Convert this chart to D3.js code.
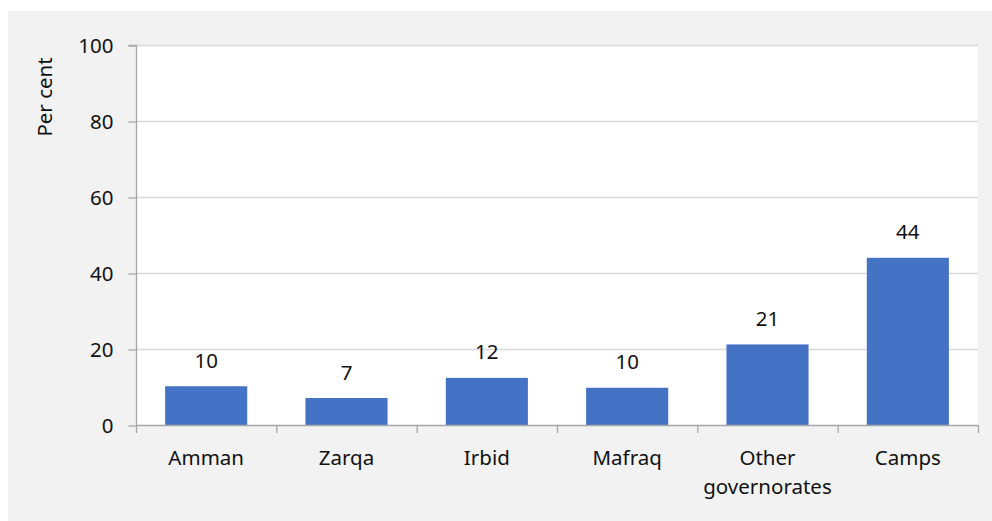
<!DOCTYPE html>
<html>
<head>
<meta charset="utf-8">
<script src="https://cdn.jsdelivr.net/npm/d3@7"></script>
<style>
  html, body { margin: 0; padding: 0; background: #ffffff; }
  svg { display: block; }
  text { font-family: "Noto Sans", "Open Sans", sans-serif; fill: #111; }
</style>
</head>
<body>
<svg id="chart" width="992" height="521"></svg>
<script>
// Share by location (per cent)
const categories = ["Amman", "Zarqa", "Irbid", "Mafraq", "Other governorates", "Camps"];
const values = [10.2, 7.1, 12.4, 9.8, 21.2, 44.0];
const yTicks = [0, 20, 40, 60, 80, 100];
const yTitle = "Per cent";

const FS = 20.5;
const svg = d3.select("#chart");
const W = 992, H = 521;

// outer panel
svg.append("rect").attr("x", 8).attr("y", 11).attr("width", W - 8).attr("height", H - 11).attr("fill", "#f2f2f2");

const plot = { left: 136, right: 978, top: 45, bottom: 425 };

const x = d3.scaleBand().domain(categories).range([plot.left, plot.right]).paddingInner(0.415).paddingOuter(0.2075);
const xEdges = d3.scaleBand().domain(categories).range([plot.left, plot.right]).padding(0);
const y = d3.scaleLinear().domain([0, 100]).range([plot.bottom, plot.top]);

// plot background
svg.append("rect").attr("x", plot.left).attr("y", plot.top)
  .attr("width", plot.right - plot.left).attr("height", plot.bottom - plot.top).attr("fill", "#ffffff");

// gridlines
svg.append("g").selectAll("line").data(yTicks.filter(d => d > 0)).join("line")
  .attr("x1", plot.left).attr("x2", plot.right)
  .attr("y1", d => y(d) + 0.5).attr("y2", d => y(d) + 0.5)
  .attr("stroke", "#d9d9d9").attr("stroke-width", 1.3);

// bars
svg.append("g").selectAll("rect").data(values).join("rect")
  .attr("x", (d, i) => x(categories[i]))
  .attr("width", x.bandwidth())
  .attr("y", d => y(d))
  .attr("height", d => y(0) - y(d))
  .attr("fill", "#4472c4");

// value labels
svg.append("g").selectAll("text").data(values).join("text")
  .attr("x", (d, i) => x(categories[i]) + x.bandwidth() / 2)
  .attr("y", d => y(d) - 18.5)
  .attr("text-anchor", "middle")
  .attr("font-size", FS)
  .text(d => d3.format(".0f")(d));

// y axis
const yAxis = d3.axisLeft(y).tickValues(yTicks).tickSize(8).tickPadding(15).tickFormat(d3.format("d"));
const gy = svg.append("g").attr("transform", `translate(${plot.left + 0.5},0)`).call(yAxis);
gy.select(".domain").attr("stroke", "#a6a6a6").attr("stroke-width", 1.3).attr("d", `M-8,${plot.top + 0.5}H0V${plot.bottom + 0.5}`);
gy.selectAll(".tick line").attr("stroke", "#a6a6a6").attr("stroke-width", 1.3).attr("transform", "translate(0,0.5)");
gy.selectAll(".tick text").attr("font-size", FS).attr("fill", "#111").attr("font-family", '"Noto Sans", "Open Sans", sans-serif').attr("dy", "0.36em");

// x axis baseline and category boundary ticks
const gx = svg.append("g");
gx.append("line").attr("x1", plot.left).attr("x2", plot.right)
  .attr("y1", plot.bottom + 0.5).attr("y2", plot.bottom + 0.5)
  .attr("stroke", "#a6a6a6").attr("stroke-width", 1.3);
const edges = categories.map(c => xEdges(c)).concat([plot.right]);
gx.selectAll("line.edge").data(edges).join("line").attr("class", "edge")
  .attr("x1", d => d + 0.5).attr("x2", d => d + 0.5)
  .attr("y1", plot.bottom).attr("y2", plot.bottom + 8)
  .attr("stroke", "#a6a6a6").attr("stroke-width", 1.3);

// category labels (wrapped)
const labelLines = { "Other governorates": ["Other", "governorates"] };
gx.selectAll("text.cat").data(categories).join("text").attr("class", "cat")
  .attr("text-anchor", "middle")
  .attr("font-size", FS)
  .each(function(c) {
    const lines = labelLines[c] || [c];
    const t = d3.select(this);
    lines.forEach((ln, k) => {
      t.append("tspan").attr("x", x(c) + x.bandwidth() / 2).attr("y", 465 + k * 29).text(ln);
    });
  });

// y title
svg.append("text")
  .attr("transform", `translate(52,97) rotate(-90)`)
  .attr("text-anchor", "middle")
  .attr("font-size", FS)
  .text(yTitle);
</script>
</body>
</html>
